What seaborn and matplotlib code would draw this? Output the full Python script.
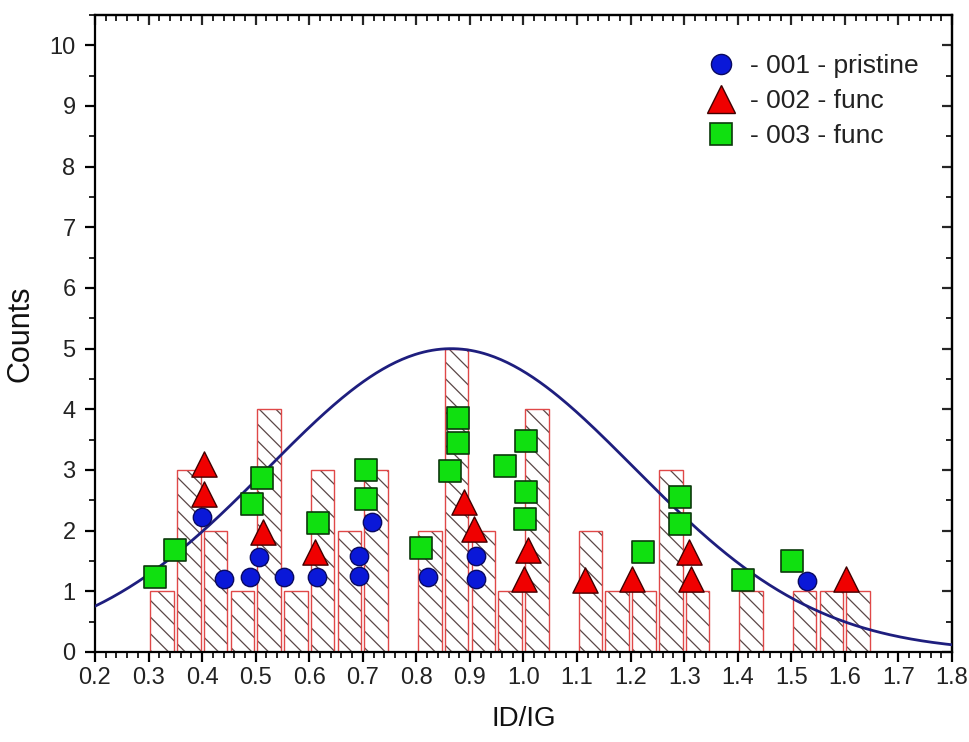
import numpy as np
import pandas as pd
import matplotlib
matplotlib.use("Agg")
import matplotlib.pyplot as plt
from matplotlib.lines import Line2D
from matplotlib.ticker import MultipleLocator
import seaborn as sns

# Histogram of ID/IG ratios: bins of 0.05 starting at 0.30
bin_start = 0.30
bin_width = 0.05
bin_counts = [1, 3, 2, 1, 4, 1, 3, 2, 3, 0, 2, 5, 2, 1, 4, 0,
              2, 1, 1, 3, 1, 0, 1, 0, 1, 1, 1]

# Gaussian fit of the distribution
fit_center = 0.865
fit_sigma = 0.342
fit_height = 5.0

# Sample 001 - pristine
s001_x = [0.400, 0.440, 0.489, 0.506, 0.553, 0.614, 0.692, 0.693, 0.718,
          0.822, 0.911, 0.911, 1.529]
s001_y = [2.22, 1.21, 1.23, 1.57, 1.23, 1.24, 1.58, 1.25, 2.15,
          1.24, 1.59, 1.21, 1.17]

# Sample 002 - func
s002_x = [0.404, 0.404, 0.513, 0.611, 0.888, 0.908, 1.009, 1.001, 1.115,
          1.203, 1.309, 1.312, 1.603]
s002_y = [3.10, 2.61, 1.98, 1.65, 2.48, 2.02, 1.68, 1.20, 1.19,
          1.21, 1.65, 1.21, 1.21]

# Sample 003 - func
s003_x = [0.312, 0.349, 0.494, 0.511, 0.617, 0.706, 0.706, 0.809, 0.863,
          0.878, 0.878, 0.966, 1.004, 1.004, 1.003, 1.224, 1.292, 1.292,
          1.409, 1.501]
s003_y = [1.23, 1.68, 2.44, 2.86, 2.12, 3.00, 2.53, 1.72, 2.99,
          3.44, 3.85, 3.07, 3.48, 2.64, 2.19, 1.65, 2.56, 2.11,
          1.19, 1.50]

legend_labels = ["- 001 - pristine", "- 002 - func", "- 003 - func"]

sns.set_style("ticks")
plt.rcParams["font.family"] = ["Liberation Sans", "DejaVu Sans"]
plt.rcParams["hatch.linewidth"] = 0.9

fig = plt.figure(figsize=(9.70, 7.42), dpi=100)
ax = fig.add_axes([95 / 970, 1 - 652 / 742, 857 / 970, 637 / 742])

n_bins = len(bin_counts)
bin_end = bin_start + bin_width * n_bins
centers = bin_start + bin_width * (np.arange(n_bins) + 0.5)
hist_df = pd.DataFrame({"ratio": centers, "count": bin_counts})

# hatched fill, then red outlines on top
sns.histplot(data=hist_df, x="ratio", weights="count", binwidth=bin_width,
             binrange=(bin_start, bin_end), shrink=0.88,
             color="white", edgecolor="#5a4646", linewidth=0, hatch="\\\\",
             alpha=1, ax=ax, zorder=1)
sns.histplot(data=hist_df, x="ratio", weights="count", binwidth=bin_width,
             binrange=(bin_start, bin_end), shrink=0.88,
             fill=False, color="#e04848", linewidth=1.0, alpha=1,
             ax=ax, zorder=2)

curve_x = np.linspace(0.2, 1.8, 400)
curve_y = fit_height * np.exp(-(curve_x - fit_center) ** 2 / (2 * fit_sigma ** 2))
sns.lineplot(x=curve_x, y=curve_y, color="#1e1e7e", linewidth=2.0,
             estimator=None, sort=False, ax=ax, zorder=3)

sns.scatterplot(x=s001_x, y=s001_y, marker="o", s=175, color="#0a18d8",
                edgecolor="#0a0a60", linewidth=1.0, ax=ax, zorder=5)
sns.scatterplot(x=s002_x, y=s002_y, marker="^", s=330, color="#f00000",
                edgecolor="#400000", linewidth=1.0, ax=ax, zorder=5)
sns.scatterplot(x=s003_x, y=s003_y, marker="s", s=250, color="#10e010",
                edgecolor="#0c3a0c", linewidth=1.2, ax=ax, zorder=6)

ax.set_xlim(0.2, 1.8)
ax.set_ylim(0, 10.5)
ax.xaxis.set_major_locator(MultipleLocator(0.1))
ax.xaxis.set_minor_locator(MultipleLocator(0.02))
ax.yaxis.set_major_locator(MultipleLocator(1))
ax.yaxis.set_minor_locator(MultipleLocator(0.5))
ax.set_xticklabels([f"{v:.1f}" for v in ax.get_xticks()])

for side in ["left", "right", "top", "bottom"]:
    ax.spines[side].set_visible(True)
    ax.spines[side].set_linewidth(1.6)
    ax.spines[side].set_color("black")

ax.tick_params(axis="both", which="major", direction="out", length=7,
               width=1.6, labelsize=17, color="black", labelcolor="#222222")
ax.tick_params(axis="both", which="minor", direction="out", length=4.5,
               width=1.4)
ax.tick_params(axis="x", which="major", pad=4)
ax.tick_params(axis="y", which="major", pad=7)

# inward ticks on the top and right frame
top = ax.secondary_xaxis("top")
top.xaxis.set_major_locator(MultipleLocator(0.1))
top.xaxis.set_minor_locator(MultipleLocator(0.02))
top.tick_params(which="major", direction="in", length=7, width=1.6, labeltop=False)
top.tick_params(which="minor", direction="in", length=4.5, width=1.4)
top.spines["top"].set_linewidth(1.6)
right = ax.secondary_yaxis("right")
right.yaxis.set_major_locator(MultipleLocator(1))
right.yaxis.set_minor_locator(MultipleLocator(0.5))
right.tick_params(which="major", direction="in", length=7, width=1.6, labelright=False)
right.tick_params(which="minor", direction="in", length=4.5, width=1.4)
right.spines["right"].set_linewidth(1.6)

ax.set_xlabel("ID/IG", fontsize=20, labelpad=12, color="#111111")
ax.set_ylabel("Counts", fontsize=22, labelpad=10, color="#111111")

handles = [
    Line2D([], [], linestyle="none", marker="o", markersize=14.5,
           markerfacecolor="#0a18d8", markeredgecolor="#0a0a60", markeredgewidth=1.0),
    Line2D([], [], linestyle="none", marker="^", markersize=20,
           markerfacecolor="#f00000", markeredgecolor="#400000", markeredgewidth=1.0),
    Line2D([], [], linestyle="none", marker="s", markersize=16.5,
           markerfacecolor="#10e010", markeredgecolor="#0c3a0c", markeredgewidth=1.2),
]
leg = ax.legend(handles, legend_labels, loc="upper left",
                bbox_to_anchor=((708 - 95) / 857, (652 - 54) / 637),
                frameon=False, fontsize=19, handlelength=1.0, handletextpad=0.6,
                labelspacing=0.42, borderpad=0, borderaxespad=0)
for t in leg.get_texts():
    t.set_color("#222222")

fig.savefig("out.png", dpi=100)
